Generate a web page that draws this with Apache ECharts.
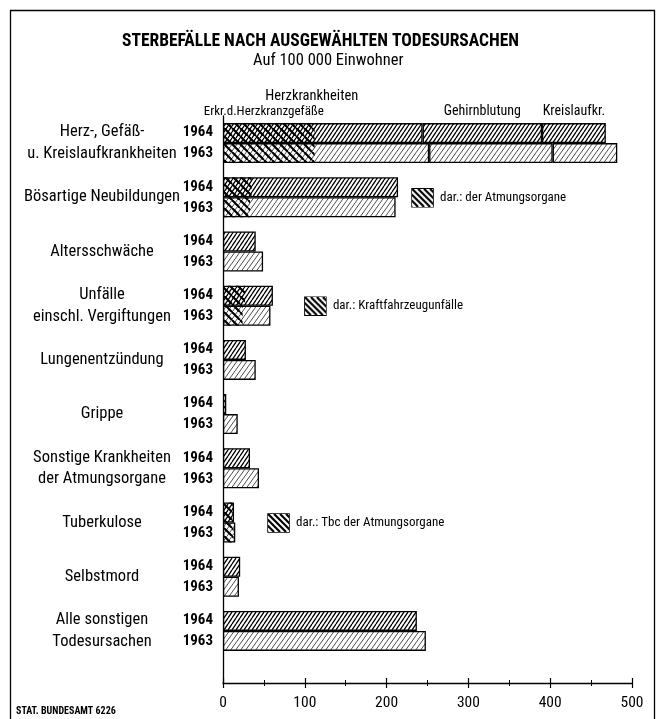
<!DOCTYPE html>
<html><head><meta charset="utf-8">
<script src="https://cdn.jsdelivr.net/npm/echarts@6/dist/echarts.min.js"></script>
<style>html,body{margin:0;padding:0;background:#fff}#c{width:663px;height:719px}</style>
</head><body><div id="c"></div>
<script>
// ---- data ----
const causes = ['Herz-, Gefäß-\nu. Kreislaufkrankheiten', 'Bösartige Neubildungen', 'Altersschwäche',
  'Unfälle\neinschl. Vergiftungen', 'Lungenentzündung', 'Grippe',
  'Sonstige Krankheiten\nder Atmungsorgane', 'Tuberkulose', 'Selbstmord', 'Alle sonstigen\nTodesursachen'];
const years = ['1964', '1963'];
// first segment (for the first group: Herzkrankheiten)
const main1964 = [244, 214, 40, 61, 28, 4, 33, 13.5, 21, 237];
const main1963 = [252, 211, 49, 58, 40, 18, 44, 15, 19.5, 248];
const gehirn1964 = [146, null, null, null, null, null, null, null, null, null];
const gehirn1963 = [151, null, null, null, null, null, null, null, null, null];
const kreislauf1964 = [78, null, null, null, null, null, null, null, null, null];
const kreislauf1963 = [79, null, null, null, null, null, null, null, null, null];
// "darunter" parts
const dar1964 = [112, 35, null, 27, null, null, null, 12, null, null];
const dar1963 = [112, 33, null, 24, null, null, null, 13, null, null];
const darNotes = [null, 'dar.: der Atmungsorgane', null, 'dar.: Kraftfahrzeugunfälle', null, null, null, 'dar.: Tbc der Atmungsorgane', null, null];
const segNames = ['Herzkrankheiten', 'Gehirnblutung', 'Kreislaufkr.', 'Erkr.d.Herzkranzgefäße'];
const xTicks = [0, 100, 200, 300, 400, 500];

// ---- styling ----
const FONT = '"Roboto Condensed", "Open Sans Condensed", sans-serif';
const noteGap = [0, 14, 0, 32, 0, 0, 0, 34, 0, 0];

function hatch(w, h, lw, dir, color, bg) {
  const c = document.createElement('canvas'); c.width = w; c.height = h;
  const g = c.getContext('2d');
  if (bg) { g.fillStyle = bg; g.fillRect(0, 0, w, h); }
  g.strokeStyle = color; g.lineWidth = lw; g.beginPath();
  for (let k = -1; k <= 1; k++) {
    if (dir > 0) { g.moveTo(k * w, h); g.lineTo(k * w + w, 0); }
    else { g.moveTo(k * w, 0); g.lineTo(k * w + w, h); }
  }
  g.stroke();
  return c;
}
function boxCanvas() {
  const c = document.createElement('canvas'); c.width = 21; c.height = 18;
  const g = c.getContext('2d'); g.fillStyle = '#fff'; g.fillRect(0, 0, 21, 18);
  g.strokeStyle = '#000'; g.lineWidth = 2.2; g.beginPath();
  for (let x = -18; x < 24; x += 6) { g.moveTo(x, 0); g.lineTo(x + 18, 18); }
  g.stroke();
  return c;
}
const pat64 = { image: hatch(4, 6, 1.3, 1, '#000', '#fff'), repeat: 'repeat' };
const pat63 = { image: hatch(5, 7, 0.8, 1, '#222', '#fff'), repeat: 'repeat' };
const patDar = { image: hatch(8, 8, 2.2, -1, '#000', null), repeat: 'repeat' };
const boxImg = boxCanvas();

const border = { borderColor: '#000', borderWidth: 1.3 };
const segLabel = (txt, dist, dx, fs) => ({ show: true, position: 'top', distance: dist, offset: [dx, 0],
  formatter: txt, fontFamily: FONT, fontSize: fs, color: '#000' });

const data64 = main1964.map((v, i) => {
  const d = { value: v };
  if (i === 0) d.label = segLabel(segNames[0], 19, -11, 14.5);
  if (darNotes[i]) d.label = { show: true, position: 'right', distance: noteGap[i], offset: [0, 10.5],
    formatter: '{b|}{t|' + darNotes[i] + '}',
    rich: { b: { width: 21, height: 18, backgroundColor: { image: boxImg }, borderColor: '#000', borderWidth: 1.5 },
            t: { fontFamily: FONT, fontSize: 13, color: '#000', padding: [0, 0, 0, 7] } } };
  return d;
});
const firstOnly = (arr, txt, dist, dx, fs) => arr.map((v, i) => i === 0 ? { value: v, label: segLabel(txt, dist, dx, fs) } : v);

const barBase = { type: 'bar', barWidth: 20, barGap: '0%', xAxisIndex: 0, yAxisIndex: 0 };
const series = [
  Object.assign({}, barBase, { name: '1964', stack: 'a', data: data64, itemStyle: Object.assign({ color: pat64 }, border) }),
  Object.assign({}, barBase, { name: 'G1964', stack: 'a', data: firstOnly(gehirn1964, segNames[1], 5, 0, 14), itemStyle: Object.assign({ color: pat64 }, border) }),
  Object.assign({}, barBase, { name: 'K1964', stack: 'a', data: firstOnly(kreislauf1964, segNames[2], 5, 0, 14), itemStyle: Object.assign({ color: pat64 }, border) }),
  Object.assign({}, barBase, { name: '1963', stack: 'b', data: main1963, itemStyle: Object.assign({ color: pat63 }, border) }),
  Object.assign({}, barBase, { name: 'G1963', stack: 'b', data: gehirn1963, itemStyle: Object.assign({ color: pat63 }, border) }),
  Object.assign({}, barBase, { name: 'K1963', stack: 'b', data: kreislauf1963, itemStyle: Object.assign({ color: pat63 }, border) }),
  { type: 'bar', name: 'd1964', barWidth: 20, barGap: '0%', xAxisIndex: 0, yAxisIndex: 1, z: 5,
    data: firstOnly(dar1964, segNames[3], 5, -5, 13), itemStyle: { color: patDar } },
  { type: 'bar', name: 'd1963', barWidth: 20, barGap: '0%', xAxisIndex: 0, yAxisIndex: 1, z: 5,
    data: dar1963, itemStyle: { color: patDar } }
];

const xMin = xTicks[0], xMax = xTicks[xTicks.length - 1], xInt = xTicks[1] - xTicks[0];
const chart = echarts.init(document.getElementById('c'), null, { renderer: 'canvas' });
chart.setOption({
  backgroundColor: '#fff',
  animation: false,
  title: [
    { text: 'STERBEFÄLLE NACH AUSGEWÄHLTEN TODESURSACHEN', left: 122, top: 33, padding: 0,
      textStyle: { fontFamily: FONT, fontWeight: 'bold', fontSize: 17.5, color: '#000' } },
    { text: 'Auf 100 000 Einwohner', left: 253, top: 52, padding: 0,
      textStyle: { fontFamily: FONT, fontWeight: 'normal', fontSize: 16.5, color: '#000' } },
    { text: 'STAT. BUNDESAMT 6226', left: 16, top: 706, padding: 0,
      textStyle: { fontFamily: FONT, fontWeight: 'bold', fontSize: 10, color: '#000' } }
  ],
  graphic: [{ type: 'rect', shape: { x: 10.5, y: 10.5, width: 644, height: 730 },
    style: { fill: null, stroke: '#000', lineWidth: 1.3 }, silent: true }],
  grid: [
    { left: 223, right: 31, top: 116, bottom: 61 },
    { left: 223, right: 31, top: 658, bottom: 36 }
  ],
  xAxis: [
    { type: 'value', gridIndex: 0, min: xMin, max: xMax, interval: xInt, show: false },
    { type: 'value', gridIndex: 1, position: 'bottom', min: xMin, max: xMax, interval: xInt,
      axisLine: { show: true, lineStyle: { color: '#000', width: 1.3 } },
      axisTick: { show: true, length: 5, inside: false, lineStyle: { color: '#000', width: 1.2 } },
      minorTick: { show: true, splitNumber: 2, length: 3, lineStyle: { color: '#000', width: 1 } },
      splitLine: { show: false },
      axisLabel: { margin: 12, fontFamily: FONT, fontSize: 15.5, color: '#000' } },
    { type: 'value', gridIndex: 1, position: 'bottom', min: xMin, max: xMax, interval: xInt,
      axisLine: { show: false },
      axisTick: { show: true, length: 5, inside: true, lineStyle: { color: '#000', width: 1.2 } },
      minorTick: { show: true, splitNumber: 2, length: 3, lineStyle: { color: '#000', width: 1 } },
      splitLine: { show: false }, axisLabel: { show: false } }
  ],
  yAxis: [
    { type: 'category', gridIndex: 0, inverse: true, data: causes, position: 'left',
      axisLine: { show: true, lineStyle: { color: '#000', width: 1.3 } }, axisTick: { show: false },
      axisLabel: { margin: 121, align: 'center', fontFamily: FONT, fontSize: 16.5, lineHeight: 21.5, color: '#000' } },
    { type: 'category', gridIndex: 0, inverse: true, data: causes, position: 'left', offset: 0,
      axisLine: { show: false }, axisTick: { show: false },
      axisLabel: { margin: 10, align: 'right', formatter: () => years.join('\n'), fontFamily: FONT,
        fontWeight: 'bold', fontSize: 15, lineHeight: 21, color: '#000' } },
    { type: 'category', gridIndex: 1, data: [''], axisLine: { show: true, lineStyle: { color: '#000', width: 1.3 } },
      axisTick: { show: false }, axisLabel: { show: false } }
  ],
  series: series
});
</script>
</body></html>
